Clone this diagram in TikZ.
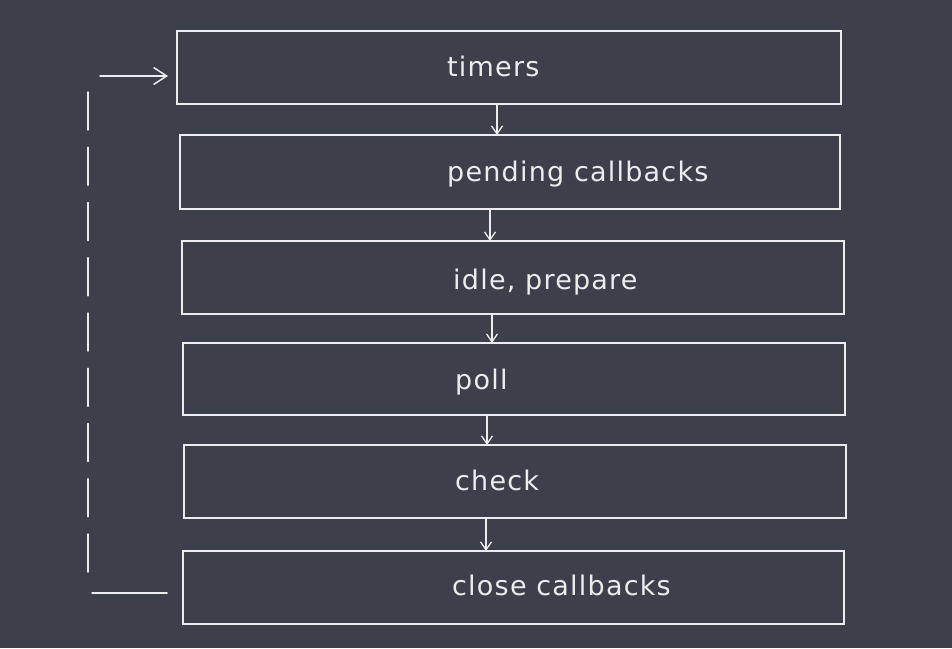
\documentclass[tikz,border=0pt]{standalone}
\usepackage{fontspec}
\setmainfont{DejaVu Sans}
\newfontfamily\labelfont[LetterSpace=4.5]{DejaVu Sans}
\usetikzlibrary{arrows.meta}
\definecolor{canvas}{RGB}{61,63,75}
\definecolor{chalk}{RGB}{236,236,238}
\begin{document}
\begin{tikzpicture}[x=1pt,y=-1pt,
  phase/.style={draw=chalk, line width=1.6pt, rectangle, inner sep=0pt, outer sep=0pt},
  phasetext/.style={text=chalk, font=\labelfont\fontsize{27}{30}\selectfont, anchor=base west, inner sep=0pt},
  flow/.style={draw=chalk, line width=1.3pt, -{Straight Barb[length=8pt,width=11pt,line width=1.3pt]}},
  loopline/.style={draw=chalk, line width=1.5pt, line cap=round},
]
  % canvas
  \fill[canvas] (0,0) rectangle (952,648);
  \useasboundingbox (0,0) rectangle (952,648);

  % event loop phases
  \node[phase, minimum width=664pt, minimum height=73pt] (timers)  at (509,67.5)  {};
  \node[phase, minimum width=660pt, minimum height=74pt] (pending) at (510,172)   {};
  \node[phase, minimum width=662pt, minimum height=73pt] (idle)    at (513,277.5) {};
  \node[phase, minimum width=662pt, minimum height=72pt] (poll)    at (514,379)   {};
  \node[phase, minimum width=662pt, minimum height=73pt] (check)   at (515,481.5) {};
  \node[phase, minimum width=661pt, minimum height=73pt] (close)   at (513.5,587.5) {};

  % phase labels
  \node[phasetext] (ttimers)  at (447,76)  {timers};
  \node[phasetext] (tpending) at (447,181) {pending callbacks};
  \node[phasetext] (tidle)    at (453,289) {idle, prepare};
  \node[phasetext] (tpoll)    at (455,389) {poll};
  \node[phasetext] (tcheck)   at (455,490) {check};
  \node[phasetext] (tclose)   at (452,595) {close callbacks};

  % flow between phases
  \draw[flow] ([xshift=-12pt]timers.south) -- ([xshift=-13pt]pending.north);
  \draw[flow] ([xshift=-20pt]pending.south) -- ([xshift=-23pt]idle.north);
  \draw[flow] ([xshift=-21pt]idle.south) -- ([xshift=-22pt]poll.north);
  \draw[flow] ([xshift=-27pt]poll.south) -- ([xshift=-28pt]check.north);
  \draw[flow] ([xshift=-29pt]check.south) -- ([xshift=-27.5pt]close.north);

  % loop back from close callbacks to timers
  \coordinate (lbot) at (92,593);
  \coordinate (vbot) at (88,572);
  \coordinate (vtop) at (88,92);
  \coordinate (atail) at (100,76);
  \draw[loopline] ([xshift=-16pt,yshift=-5.5pt]close.west) -- (lbot);
  \draw[loopline, dash pattern=on 38pt off 17.25pt] (vbot) -- (vtop);
  \draw[loopline, -{Straight Barb[length=13pt,width=17pt,line width=1.5pt]}] (atail) -- ([xshift=-9pt,yshift=-8.5pt]timers.west);
\end{tikzpicture}
\end{document}
